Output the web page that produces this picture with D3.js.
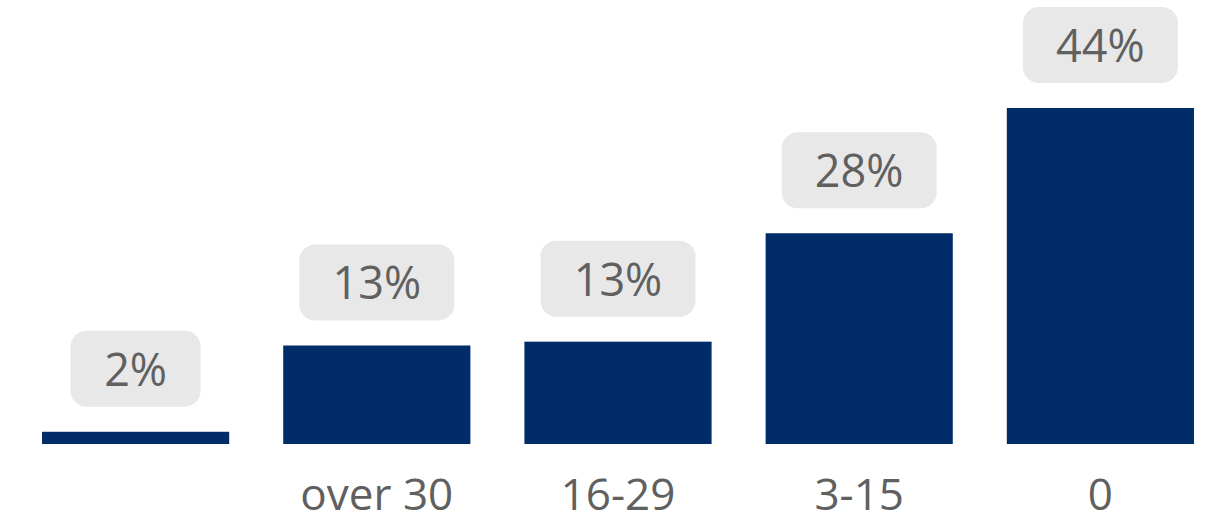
<!DOCTYPE html>
<html><head><meta charset="utf-8">
<script src="https://cdn.jsdelivr.net/npm/d3@7"></script>
<style>body{margin:0;background:#fff}svg{display:block}</style>
</head><body>
<svg id="c" width="1230" height="526"></svg>
<script>
const categories = ["", "over 30", "16-29", "3-15", "0"];
const values = [1.6, 12.9, 13.4, 27.6, 44.0];
const labels = ["2%", "13%", "13%", "28%", "44%"];

const W = 1230, H = 526;
const svg = d3.select("#c");
const x = d3.scaleBand().domain(categories.map((d,i)=>i)).range([15, 1221]).paddingInner(0.224).paddingOuter(0.112);
const y = d3.scaleLinear().domain([0, 44]).range([444, 108]);
const font = "'Open Sans', 'Noto Sans', sans-serif";

svg.selectAll("rect.bar").data(values).join("rect")
  .attr("class","bar")
  .attr("x",(d,i)=>x(i)).attr("width",x.bandwidth())
  .attr("y",d=>y(d)).attr("height",d=>y(0)-y(d))
  .attr("fill","#002d69");

const g = svg.selectAll("g.lab").data(values).join("g").attr("class","lab");
g.append("rect")
  .attr("x",(d,i)=>x(i)+x.bandwidth()/2 - (labels[i].length>2?77.5:65))
  .attr("width",(d,i)=>labels[i].length>2?155:130)
  .attr("y",d=>y(d)-101).attr("height",76)
  .attr("rx",16).attr("fill","#e8e8e8");
g.append("text")
  .attr("x",(d,i)=>x(i)+x.bandwidth()/2)
  .attr("y",d=>y(d)-46)
  .attr("text-anchor","middle")
  .attr("font-family",font).attr("font-size",45).attr("fill","#606060")
  .text((d,i)=>labels[i]);

svg.selectAll("text.cat").data(categories).join("text")
  .attr("class","cat")
  .attr("x",(d,i)=>x(i)+x.bandwidth()/2)
  .attr("y",510)
  .attr("text-anchor","middle")
  .attr("font-family",font).attr("font-size",44).attr("fill","#606060")
  .text(d=>d);
</script>
</body></html>
